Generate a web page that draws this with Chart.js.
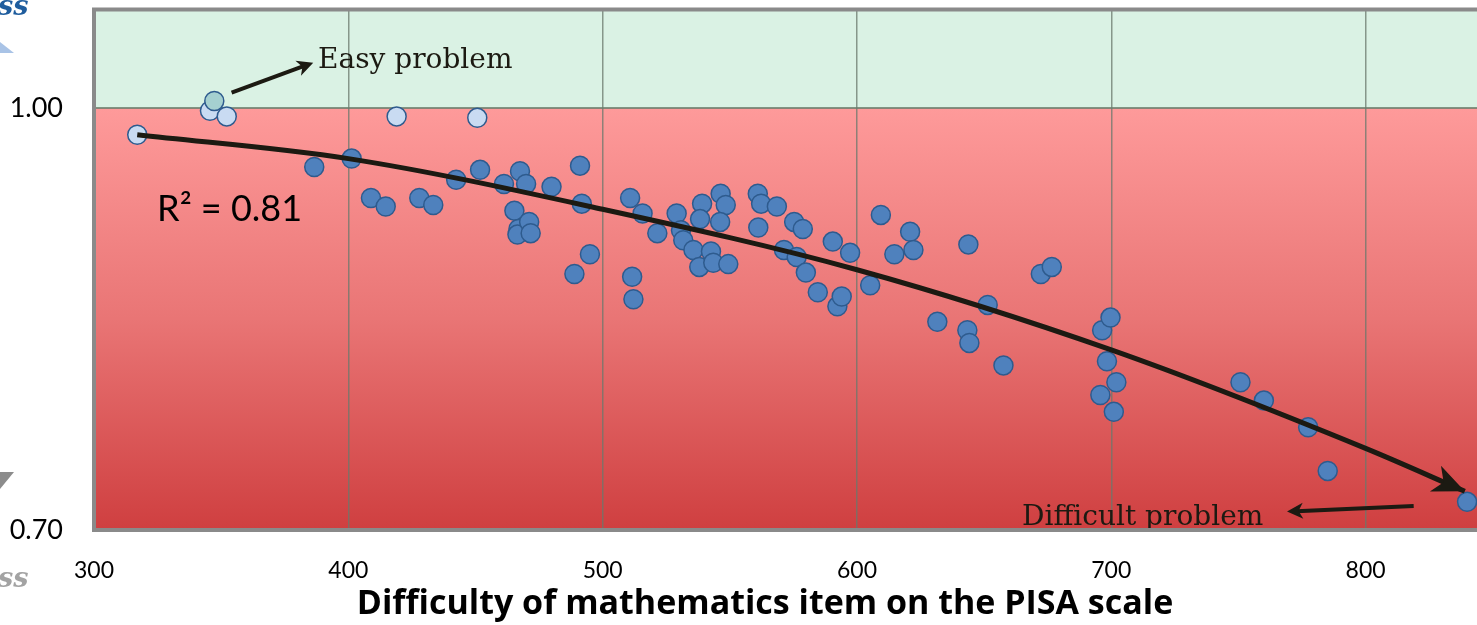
<!DOCTYPE html>
<html>
<head>
<meta charset="utf-8">
<title>PISA item difficulty</title>
<script src="https://cdn.jsdelivr.net/npm/chart.js@4.4.1/dist/chart.umd.min.js"></script>
<style>
  body { margin: 0; background: #fff; }
  #wrap { position: relative; width: 1477px; height: 625px; overflow: hidden; }
  #chart { position: absolute; left: 0; top: 0; }
  .frag { position: absolute; font-family: "DejaVu Serif", serif; font-weight: bold; font-style: italic; font-size: 27px; line-height: 1; }
  .tri { position: absolute; }
</style>
</head>
<body>
<div id="wrap">
  <canvas id="chart" width="1477" height="625"></canvas>
  <!-- bits of the slide's side labels, cut off at the left edge -->
  <div class="frag" style="left:-2px; top:-8px; color:#1f5d9e;">ss</div>
  <div class="tri" style="left:0; top:42px; width:14px; height:11px; background:#a9c3e6; clip-path:polygon(0 0,100% 100%,0 100%);"></div>
  <div class="tri" style="left:0; top:472px; width:14px; height:17px; background:#8c8c8c; clip-path:polygon(0 0,100% 0,0 100%);"></div>
  <div class="frag" style="left:-2px; top:564px; color:#a3a3a3;">ss</div>
</div>
<script>
// item difficulty (PISA scale) and proportion
const itemDifficulty = [
  317.0, 345.6, 347.3, 352.2, 419.0, 450.7, 386.6, 401.3, 408.9, 414.7,
  427.9, 433.4, 442.4, 451.8, 461.2, 467.5, 469.9, 479.9, 491.1, 491.8,
  465.3, 466.9, 466.5, 471.1, 471.7, 488.9, 495.0, 510.8, 515.7, 521.5,
  511.6, 512.1, 529.1, 530.8, 531.7, 535.7, 538.0, 542.6, 543.5, 549.4,
  539.1, 538.3, 546.4, 548.4, 546.2, 561.0, 562.3, 568.5, 561.2, 575.3,
  578.7, 571.3, 576.3, 579.9, 584.6, 590.5, 597.3, 592.3, 594.0, 605.2,
  609.4, 620.9, 622.2, 614.7, 643.8, 672.3, 676.6, 631.6, 643.4, 644.2,
  651.4, 657.6, 696.4, 699.7, 698.3, 702.0, 695.7, 701.0, 750.8, 760.0,
  777.4, 785.1, 839.9
];
const itemScore = [
  0.981, 0.998, 1.005, 0.994, 0.994, 0.993, 0.958, 0.964, 0.936, 0.930,
  0.936, 0.931, 0.949, 0.956, 0.946, 0.955, 0.946, 0.944, 0.959, 0.932,
  0.927, 0.914, 0.910, 0.919, 0.911, 0.882, 0.896, 0.936, 0.925, 0.911,
  0.880, 0.864, 0.925, 0.913, 0.906, 0.899, 0.887, 0.898, 0.890, 0.889,
  0.932, 0.921, 0.939, 0.931, 0.919, 0.939, 0.932, 0.930, 0.915, 0.919,
  0.914, 0.899, 0.894, 0.883, 0.869, 0.905, 0.897, 0.859, 0.866, 0.874,
  0.924, 0.912, 0.899, 0.896, 0.903, 0.882, 0.887, 0.848, 0.842, 0.833,
  0.860, 0.817, 0.842, 0.851, 0.820, 0.805, 0.796, 0.784, 0.805, 0.792,
  0.773, 0.742, 0.720
];

// trend curve, read at the grid lines
const trendDifficulty = [317, 400, 500, 600, 700, 800, 839];
const trendScore = [0.981, 0.964, 0.928, 0.885, 0.828, 0.758, 0.7275];

const xTicks = [300, 400, 500, 600, 700, 800];
const yTicks = [0.70, 1.00];
const rSquared = 'R\u00B2 = 0.81';
const xTitle = 'Difficulty of mathematics item on the PISA scale';

const points = itemDifficulty.map((x, i) => ({ x: x, y: itemScore[i] }));
const trend = trendDifficulty.map((x, i) => ({ x: x, y: trendScore[i] }));

function drawArrow(ctx, x1, y1, x2, y2, width, headLen, headHalf) {
  const ang = Math.atan2(y2 - y1, x2 - x1);
  ctx.lineWidth = width;
  ctx.beginPath();
  ctx.moveTo(x1, y1);
  ctx.lineTo(x2 - Math.cos(ang) * headLen * 0.6, y2 - Math.sin(ang) * headLen * 0.6);
  ctx.stroke();
  drawHead(ctx, x2, y2, ang, headLen, headHalf);
}

function drawHead(ctx, x, y, ang, headLen, headHalf) {
  ctx.save();
  ctx.translate(x, y);
  ctx.rotate(ang);
  ctx.beginPath();
  ctx.moveTo(0, 0);
  ctx.lineTo(-headLen, -headHalf);
  ctx.lineTo(-headLen * 0.72, 0);
  ctx.lineTo(-headLen, headHalf);
  ctx.closePath();
  ctx.fill();
  ctx.restore();
}

const backdrop = {
  id: 'backdrop',
  beforeDraw(chart) {
    const { ctx, chartArea: a, scales: { y } } = chart;
    const yOne = y.getPixelForValue(1.0);
    ctx.save();
    ctx.fillStyle = '#daf2e4';
    ctx.fillRect(a.left, a.top, a.width, yOne - a.top);
    const g = ctx.createLinearGradient(0, yOne, 0, a.bottom);
    g.addColorStop(0, '#fe9a9a');
    g.addColorStop(0.5, '#e97575');
    g.addColorStop(1, '#cf3f40');
    ctx.fillStyle = g;
    ctx.fillRect(a.left, yOne, a.width, a.bottom - yOne);
    ctx.restore();
  },
  afterDatasetsDraw(chart) {
    const { ctx, scales: { x, y } } = chart;
    ctx.save();
    ctx.fillStyle = '#1c1a12';
    ctx.strokeStyle = '#1c1a12';

    // arrow head at the end of the trend curve
    const meta = chart.getDatasetMeta(0).data;
    const p1 = meta[meta.length - 2], p2 = meta[meta.length - 1];
    drawHead(ctx, p2.x, p2.y, Math.atan2(p2.y - p1.y, p2.x - p1.x), 32, 14);

    // labels with their arrows
    drawArrow(ctx, x.getPixelForValue(354.1), y.getPixelForValue(1.0109),
      x.getPixelForValue(386.2), y.getPixelForValue(1.0322), 4, 16, 8);
    drawArrow(ctx, x.getPixelForValue(818.9), y.getPixelForValue(0.7171),
      x.getPixelForValue(769.1), y.getPixelForValue(0.7131), 4, 16, 8);

    ctx.textBaseline = 'alphabetic';
    ctx.textAlign = 'left';
    ctx.font = '28px "DejaVu Serif"';
    ctx.fillText('Easy problem', x.getPixelForValue(388.1), y.getPixelForValue(1.0284));
    ctx.fillText('Difficult problem', x.getPixelForValue(664.9), y.getPixelForValue(0.7035));

    ctx.fillStyle = '#000';
    ctx.font = '36px Lato';
    ctx.fillText(rSquared, x.getPixelForValue(324.8), y.getPixelForValue(0.9197));
    ctx.restore();
  },
  afterDraw(chart) {
    const { ctx, chartArea: a } = chart;
    ctx.save();
    ctx.strokeStyle = '#8a8a8a';
    ctx.lineWidth = 4;
    ctx.strokeRect(a.left, a.top, a.width + 20, a.height);
    ctx.fillStyle = '#000';
    ctx.font = 'bold 34px "Open Sans"';
    ctx.textAlign = 'center';
    ctx.textBaseline = 'middle';
    ctx.fillText(xTitle, 765, 604);
    ctx.restore();
  }
};

new Chart(document.getElementById('chart'), {
  type: 'scatter',
  data: {
    datasets: [
      {
        type: 'line',
        data: trend,
        borderColor: '#1c1a12',
        borderWidth: 5,
        pointRadius: 0,
        fill: false,
        cubicInterpolationMode: 'monotone'
      },
      {
        data: points,
        pointRadius: 9.5,
        borderWidth: 1.5,
        backgroundColor: c => {
          const v = c.raw ? c.raw.y : 0;
          return v > 1.0 ? '#a5d0d0' : v > 0.975 ? '#c9dbf2' : '#4f81bd';
        },
        borderColor: '#2e5b8e'
      }
    ]
  },
  options: {
    responsive: false,
    animation: false,
    layout: { autoPadding: false, padding: { top: 9.5, right: 0, left: 0, bottom: 0 } },
    plugins: { legend: { display: false }, tooltip: { enabled: false } },
    scales: {
      x: {
        type: 'linear',
        min: 300,
        max: 843.8,
        afterBuildTicks: s => { s.ticks = xTicks.map(v => ({ value: v })); },
        afterFit: s => { s.height = 95; s.paddingLeft = 0; s.paddingRight = 0; },
        border: { display: false },
        grid: { color: 'rgba(105,120,108,0.75)', lineWidth: 1.5, drawTicks: false },
        ticks: { font: { family: 'Lato', size: 23 }, color: '#000', padding: 27, maxRotation: 0, autoSkip: false }
      },
      y: {
        min: 0.70,
        max: 1.07,
        afterBuildTicks: s => { s.ticks = yTicks.map(v => ({ value: v })); },
        afterFit: s => { s.width = 94; s.paddingTop = 0; s.paddingBottom = 0; },
        border: { display: false },
        grid: {
          color: c => (c.tick && c.tick.value === 1 ? 'rgba(105,125,108,0.8)' : 'rgba(0,0,0,0)'),
          lineWidth: 2,
          drawTicks: false
        },
        ticks: {
          font: { family: 'Lato', size: 27 },
          color: '#000',
          padding: 31,
          callback: v => v.toFixed(2)
        }
      }
    }
  },
  plugins: [backdrop]
});
</script>
</body>
</html>
